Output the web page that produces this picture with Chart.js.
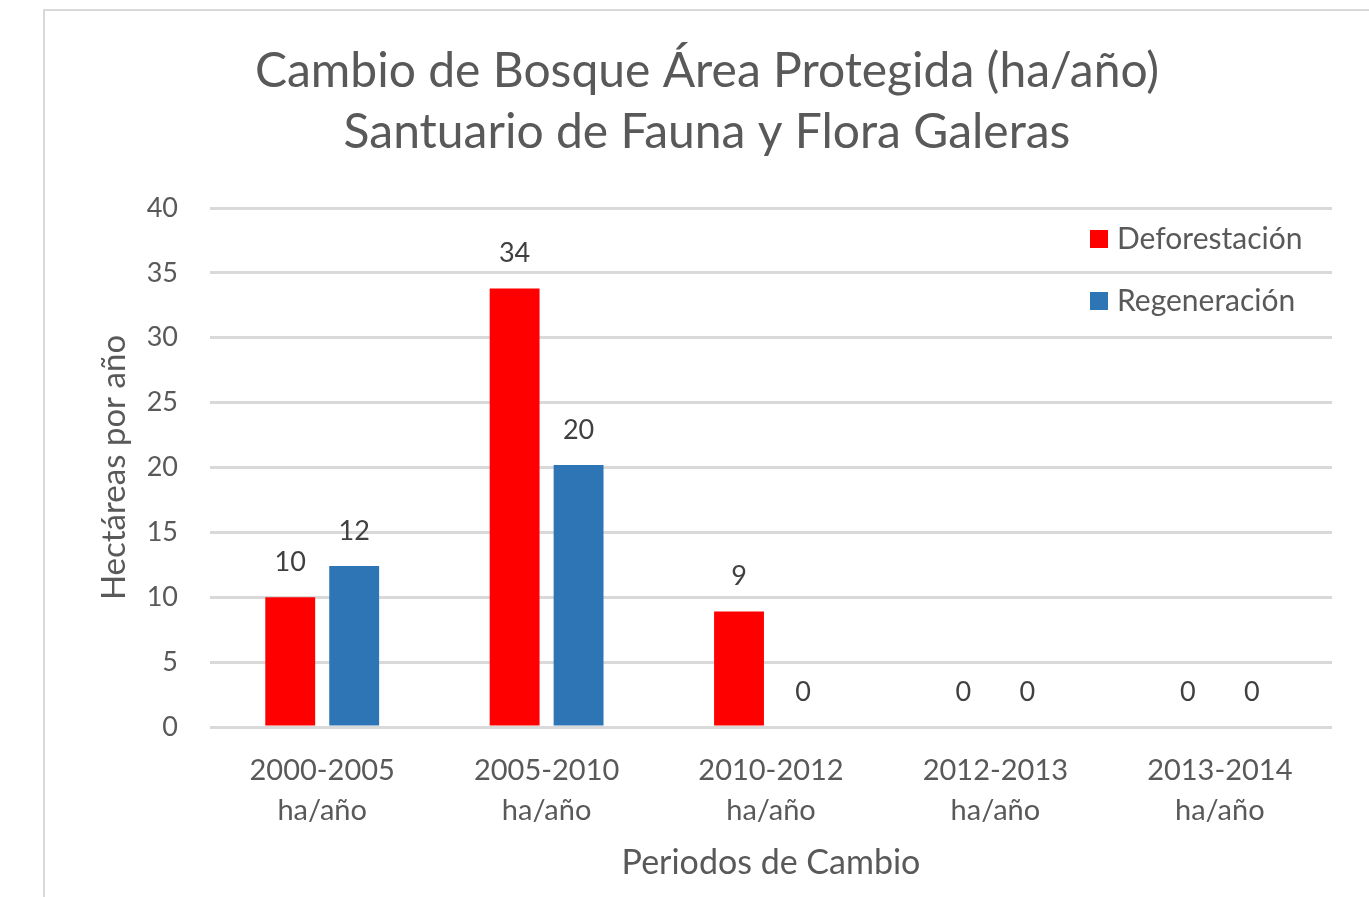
<!DOCTYPE html>
<html>
<head>
<meta charset="utf-8">
<script src="https://cdn.jsdelivr.net/npm/chart.js@4/dist/chart.umd.min.js"></script>
<style>
    html, body {
        margin: 0;
        padding: 0;
        background: #ffffff;
        overflow: hidden;
    }
    #frame {
        position: absolute;
        left: 43px;
        top: 9px;
        width: 1324px;
        height: 886px;
        border-left: 2px solid #d9d9d9;
        border-top: 2px solid #d9d9d9;
    }
</style>
</head>
<body>
<div id="frame">
    <canvas id="chart"></canvas>
</div>
<script>
// Chart data
const periods = [
    ['2000-2005', 'ha/año'],
    ['2005-2010', 'ha/año'],
    ['2010-2012', 'ha/año'],
    ['2012-2013', 'ha/año'],
    ['2013-2014', 'ha/año']
];
const deforestacion = [10.0, 33.8, 8.9, 0, 0];
const regeneracion = [12.4, 20.2, 0, 0, 0];
const seriesNames = ['Deforestación', 'Regeneración'];
const seriesColors = ['#ff0000', '#2e75b6'];

const titleLines = ['Cambio de Bosque Área Protegida (ha/año)', 'Santuario de Fauna y Flora Galeras'];
const yTitle = 'Hectáreas por año';
const xTitle = 'Periodos de Cambio';

const textGrey = '#595959';
const fontFamily = 'Lato, "Open Sans", sans-serif';

// Value labels above each bar
const barLabels = {
    id: 'barLabels',
    afterDatasetsDraw(chart) {
        const ctx = chart.ctx;
        ctx.save();
        ctx.font = '27px ' + fontFamily;
        ctx.fillStyle = '#404040';
        ctx.textAlign = 'center';
        ctx.textBaseline = 'middle';
        chart.data.datasets.forEach((ds, i) => {
            chart.getDatasetMeta(i).data.forEach((bar, j) => {
                ctx.fillText(Math.round(ds.data[j]).toString(), bar.x, bar.y - 35);
            });
        });
        ctx.restore();
    }
};

// Legend drawn inside the plot area, top right
const insideLegend = {
    id: 'insideLegend',
    afterDraw(chart) {
        const ctx = chart.ctx;
        ctx.save();
        ctx.font = '30px ' + fontFamily;
        ctx.textBaseline = 'middle';
        ctx.textAlign = 'left';
        chart.data.datasets.forEach((ds, i) => {
            const cy = 228 + i * 62;
            ctx.fillStyle = ds.backgroundColor;
            ctx.fillRect(1045, cy - 9, 18, 18);
            ctx.fillStyle = textGrey;
            ctx.fillText(ds.label, 1072, cy);
        });
        ctx.restore();
    }
};

new Chart(document.getElementById('chart').getContext('2d'), {
    type: 'bar',
    data: {
        labels: periods,
        datasets: [
            {
                label: seriesNames[0],
                data: deforestacion,
                backgroundColor: seriesColors[0],
                categoryPercentage: 0.57,
                barPercentage: 0.78
            },
            {
                label: seriesNames[1],
                data: regeneracion,
                backgroundColor: seriesColors[1],
                categoryPercentage: 0.57,
                barPercentage: 0.78
            }
        ]
    },
    options: {
        responsive: true,
        maintainAspectRatio: false,
        animation: false,
        layout: {
            padding: 0
        },
        plugins: {
            legend: { display: false },
            tooltip: { enabled: false },
            title: {
                display: true,
                text: titleLines,
                color: textGrey,
                font: { family: fontFamily, size: 48, weight: 'normal', lineHeight: 61 / 48 },
                padding: { top: 30.5, bottom: 44.5 }
            }
        },
        scales: {
            x: {
                afterFit: scale => { scale.height = 170; },
                grid: { display: false },
                border: { display: false },
                ticks: {
                    color: textGrey,
                    padding: 16,
                    maxRotation: 0,
                    font: { family: fontFamily, size: 29, lineHeight: 40 / 29 }
                },
                title: {
                    display: true,
                    text: xTitle,
                    color: textGrey,
                    font: { family: fontFamily, size: 34, lineHeight: 1.2 },
                    padding: { top: 0, bottom: 13.6 }
                }
            },
            y: {
                min: 0,
                max: 40,
                afterFit: scale => { scale.width = 165; },
                grid: {
                    color: '#d9d9d9',
                    lineWidth: 3,
                    drawTicks: false
                },
                border: { display: false },
                ticks: {
                    stepSize: 5,
                    color: textGrey,
                    padding: 32,
                    font: { family: fontFamily, size: 27 }
                },
                title: {
                    display: true,
                    text: yTitle,
                    color: textGrey,
                    font: { family: fontFamily, size: 33, lineHeight: 1.2 },
                    padding: { top: 50, bottom: 0 }
                }
            },
            // empty right-hand strip so the plot ends where the reference does
            yRight: {
                position: 'right',
                afterFit: scale => { scale.width = 37; },
                grid: { display: false },
                border: { display: false },
                ticks: { display: false }
            }
        }
    },
    plugins: [barLabels, insideLegend]
});
</script>
</body>
</html>
